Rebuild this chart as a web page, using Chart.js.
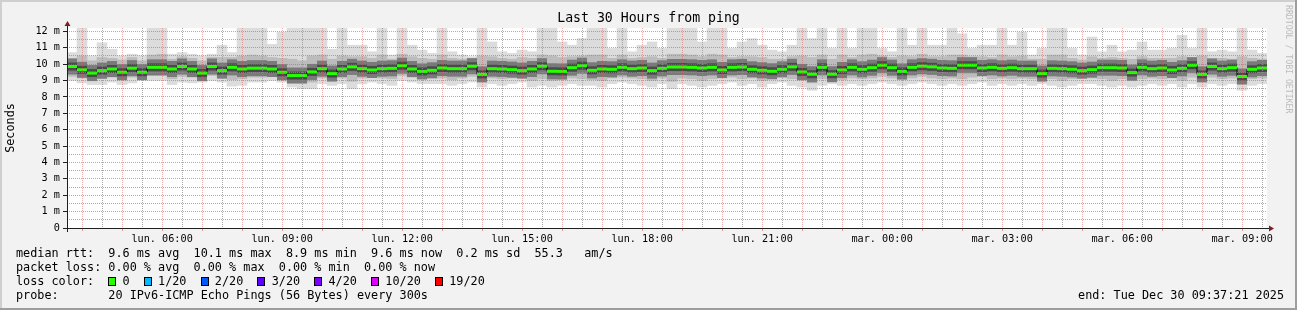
<!DOCTYPE html>
<html>
<head>
<meta charset="utf-8">
<title>Last 30 Hours from ping</title>
<script src="https://cdn.jsdelivr.net/npm/chart.js@4.4.1/dist/chart.umd.min.js"></script>
<style>
  html, body { margin: 0; padding: 0; background: #f2f2f2; }
  #wrap { width: 1297px; height: 310px; }
</style>
</head>
<body>
<div id="wrap"><canvas id="pingChart" width="1297" height="310"></canvas></div>
<script>
// time axis: 30 hours ending Tue Dec 30 09:37:21, one bucket every 15 minutes
const startMinute = 217.35;   // lun. 03:37:21, minutes after midnight
const spanMinutes = 1800;
const sampleMinutes = 15;
const xTickLabels = ['lun. 06:00', 'lun. 09:00', 'lun. 12:00', 'lun. 15:00', 'lun. 18:00',
                     'lun. 21:00', 'mar. 00:00', 'mar. 03:00', 'mar. 06:00', 'mar. 09:00'];
const yTickLabels = ['0', '1 m', '2 m', '3 m', '4 m', '5 m', '6 m', '7 m', '8 m', '9 m', '10 m', '11 m', '12 m'];

// median rtt (ms)
const medianRtt = [
  9.85, 9.65, 9.45, 9.6, 9.7, 9.5, 9.75, 9.5, 9.8, 9.8, 9.7, 9.85, 9.7, 9.45, 9.85, 9.6, 9.8, 9.7, 9.75, 9.75, 9.7, 9.5, 9.3, 9.3,
  9.52, 9.72, 9.42, 9.7, 9.83, 9.72, 9.64, 9.72, 9.74, 9.9, 9.7, 9.55, 9.62, 9.76, 9.72, 9.72, 9.87, 9.37, 9.72, 9.7, 9.66, 9.6, 9.7, 9.87,
  9.56, 9.55, 9.78, 9.9, 9.62, 9.7, 9.68, 9.8, 9.72, 9.76, 9.6, 9.74, 9.82, 9.82, 9.8, 9.76, 9.8, 9.64, 9.8, 9.82, 9.68, 9.62, 9.56, 9.68,
  9.83, 9.52, 9.38, 9.8, 9.38, 9.64, 9.8, 9.68, 9.78, 9.93, 9.78, 9.55, 9.8, 9.87, 9.83, 9.76, 9.74, 9.93, 9.93, 9.76, 9.8, 9.74, 9.78, 9.72,
  9.72, 9.42, 9.74, 9.72, 9.68, 9.6, 9.66, 9.78, 9.78, 9.76, 9.48, 9.8, 9.72, 9.76, 9.64, 9.74, 9.93, 9.37, 9.85, 9.72, 9.78, 9.24, 9.68, 9.76
];
// smoke: slowest ping of each bucket
const pingMax = [
  10.7, 12.3, 10.5, 11.3, 10.9, 10.5, 10.6, 10.5, 12.3, 12.3, 10.6, 10.7, 10.6, 10.5, 10.6, 11.15, 10.7, 12.3, 12.3, 12.3, 11.2, 11.95, 12.3, 12.3,
  12.3, 12.3, 10.9, 12.3, 11.15, 11.15, 10.75, 12.3, 10.55, 12.3, 11.15, 10.85, 10.65, 12.3, 10.75, 10.55, 10.45, 12.3, 11.35, 10.75, 10.65, 10.85, 10.75, 12.3,
  12.3, 11.35, 11.15, 11.55, 12.3, 12.3, 10.95, 12.3, 10.75, 11.15, 11.35, 10.95, 12.3, 12.3, 12.3, 11.35, 12.3, 12.3, 10.95, 11.35, 11.55, 11.15, 10.85, 10.75,
  11.15, 12.3, 11.55, 12.3, 10.95, 12.3, 10.95, 12.3, 12.3, 10.95, 10.75, 12.3, 11.15, 12.3, 11.15, 11.15, 12.3, 11.85, 10.95, 11.15, 11.15, 12.3, 11.15, 11.95,
  10.55, 10.95, 12.3, 12.3, 10.95, 10.55, 11.65, 10.75, 11.15, 10.75, 10.85, 11.35, 10.85, 10.85, 10.95, 11.75, 10.95, 12.3, 10.75, 10.85, 10.75, 12.3, 10.85, 10.65
];
// smoke: upper edge of the dense part
const pingHi = [
  10.35, 10.5, 10.2, 10.4, 10.35, 10.25, 10.4, 10.2, 10.55, 10.6, 10.3, 10.45, 10.35, 10.2, 10.4, 10.4, 10.4, 10.5, 10.55, 10.5, 10.4, 10.35, 10.3, 10.2,
  10.5, 10.55, 10.3, 10.5, 10.45, 10.45, 10.35, 10.55, 10.3, 10.6, 10.45, 10.35, 10.3, 10.55, 10.35, 10.3, 10.35, 10.5, 10.45, 10.35, 10.3, 10.4, 10.35, 10.55,
  10.5, 10.4, 10.45, 10.5, 10.55, 10.55, 10.35, 10.55, 10.35, 10.4, 10.45, 10.35, 10.6, 10.6, 10.55, 10.45, 10.6, 10.55, 10.4, 10.45, 10.45, 10.4, 10.3, 10.3,
  10.45, 10.5, 10.4, 10.55, 10.3, 10.55, 10.4, 10.55, 10.6, 10.5, 10.4, 10.5, 10.45, 10.6, 10.45, 10.45, 10.55, 10.55, 10.45, 10.45, 10.4, 10.55, 10.45, 10.5,
  10.3, 10.3, 10.55, 10.55, 10.35, 10.25, 10.45, 10.35, 10.4, 10.35, 10.3, 10.45, 10.35, 10.35, 10.35, 10.45, 10.4, 10.5, 10.35, 10.35, 10.3, 10.45, 10.35, 10.3
];
// smoke: lower edge of the dense part
const pingLo = [
  9.25, 9.15, 9.1, 9.1, 9.2, 9.1, 9.2, 9.25, 9.3, 9.3, 9.1, 9.25, 9.2, 9.2, 9.3, 9.2, 9.05, 9.1, 9.2, 9.2, 9.25, 9.2, 8.9, 8.85,
  8.9, 9.15, 9.05, 9.15, 8.95, 9.15, 9.2, 9.15, 9.1, 9.3, 9.2, 9.1, 9.15, 9.15, 9.05, 9.15, 9.25, 8.95, 9.15, 9.1, 9.15, 9.2, 9.0, 9.1,
  9.0, 9.05, 9.15, 9.1, 9.05, 9.0, 9.15, 9.2, 9.15, 9.1, 9.0, 9.15, 8.95, 9.15, 9.1, 9.0, 9.1, 9.15, 9.2, 9.1, 9.15, 9.0, 9.1, 9.2,
  9.1, 9.0, 8.85, 9.1, 9.1, 9.05, 9.15, 9.1, 9.15, 9.25, 9.15, 9.05, 9.15, 9.25, 9.15, 9.1, 9.15, 9.1, 9.2, 9.25, 9.1, 9.15, 9.1, 9.15,
  9.1, 9.1, 9.1, 9.0, 9.1, 9.15, 9.15, 9.1, 9.0, 9.1, 9.0, 9.1, 9.15, 9.1, 9.15, 9.0, 9.2, 8.95, 9.2, 9.1, 9.15, 8.8, 9.1, 9.15
];
// smoke: fastest ping of each bucket
const pingMin = [
  9.0, 8.85, 8.75, 8.75, 8.9, 8.75, 8.85, 9.05, 9.0, 9.0, 8.75, 8.9, 8.85, 8.9, 9.0, 8.9, 8.65, 8.7, 8.9, 8.9, 9.0, 8.9, 8.6, 8.5,
  8.5, 8.8, 8.7, 8.8, 8.5, 8.8, 8.9, 8.8, 8.7, 9.0, 8.9, 8.8, 8.8, 8.8, 8.7, 8.8, 8.9, 8.6, 8.8, 8.7, 8.8, 8.9, 8.6, 8.7,
  8.6, 8.7, 8.8, 8.7, 8.7, 8.6, 8.8, 8.9, 8.8, 8.7, 8.6, 8.8, 8.5, 8.8, 8.7, 8.6, 8.7, 8.8, 8.9, 8.7, 8.8, 8.6, 8.8, 8.9,
  8.7, 8.6, 8.4, 8.7, 8.8, 8.7, 8.8, 8.7, 8.8, 8.9, 8.8, 8.7, 8.8, 8.9, 8.8, 8.7, 8.8, 8.7, 8.8, 8.9, 8.7, 8.8, 8.7, 8.8,
  8.7, 8.8, 8.7, 8.6, 8.7, 8.8, 8.8, 8.7, 8.6, 8.7, 8.6, 8.7, 8.8, 8.7, 8.8, 8.6, 8.8, 8.6, 8.8, 8.7, 8.8, 8.4, 8.7, 8.8
];

// texts around the graph
const titleText = 'Last 30 Hours from ping';
const yAxisTitle = 'Seconds';
const medianLegend = 'median rtt:  9.6 ms avg  10.1 ms max  8.9 ms min  9.6 ms now  0.2 ms sd  55.3   am/s';
const lossLegend = 'packet loss: 0.00 % avg  0.00 % max  0.00 % min  0.00 % now';
const lossLabels = ['0', '1/20', '2/20', '3/20', '4/20', '10/20', '19/20'];
const lossColors = ['#26ff00', '#00b8ff', '#0059ff', '#5e00ff', '#7e00ff', '#dd00ff', '#ff0000'];
const probeLegend = 'probe:       20 IPv6-ICMP Echo Pings (56 Bytes) every 300s';
const endText = 'end: Tue Dec 30 09:37:21 2025';
const watermarkText = 'RRDTOOL / TOBI OETIKER';

const mono = '"DejaVu Sans Mono", monospace';
const majorGrid = 'rgba(222, 79, 79, 0.6)';
const majorGridX = 'rgba(222, 79, 79, 0.45)';
const minorGrid = 'rgba(143, 143, 143, 0.75)';
const noColor = 'rgba(0, 0, 0, 0)';
const yTop = 12.2;

// grid every 30 minutes, aligned to the clock
const xClockTicks = [];
for (let c = Math.ceil(startMinute / 30) * 30; c <= startMinute + spanMinutes; c += 30) {
    xClockTicks.push(c);
}
const clockOf = value => Math.round(value + startMinute);
const isHour = c => c.tick !== undefined && clockOf(c.tick.value) % 60 === 0;
const isWhole = c => c.tick !== undefined && Number.isInteger(c.tick.value);

// grid every half unit on the value axis
const yGridTicks = [];
yTickLabels.forEach((_, i) => {
    yGridTicks.push(i);
    if (i < yTickLabels.length - 1) yGridTicks.push(i + 0.5);
});

const rrdFrame = {
    id: 'rrdFrame',
    beforeDraw(chart) {
        const { ctx, chartArea: a, width, height } = chart;
        ctx.save();
        ctx.fillStyle = '#f2f2f2';
        ctx.fillRect(0, 0, width, height);
        ctx.fillStyle = '#cfcfcf';
        ctx.fillRect(0, 0, width, 2);
        ctx.fillRect(0, 0, 2, height);
        ctx.fillStyle = '#9e9e9e';
        ctx.fillRect(0, height - 2, width, 2);
        ctx.fillRect(width - 2, 0, 2, height);
        ctx.fillStyle = '#ffffff';
        ctx.fillRect(a.left, a.top, a.right - a.left, a.bottom - a.top);
        ctx.restore();
    },
    afterDraw(chart) {
        const { ctx, chartArea: a } = chart;
        const x0 = a.left, y0 = a.bottom;
        ctx.save();

        // axes
        ctx.strokeStyle = '#1f1f1f';
        ctx.lineWidth = 1;
        ctx.beginPath();
        ctx.moveTo(x0 - 4, y0 + 0.5);
        ctx.lineTo(a.right + 4, y0 + 0.5);
        ctx.moveTo(x0 + 0.5, y0 + 4);
        ctx.lineTo(x0 + 0.5, a.top - 4);
        ctx.stroke();

        // arrows
        ctx.fillStyle = '#801f1f';
        ctx.beginPath();
        ctx.moveTo(a.right + 2, y0 - 3 + 0.5);
        ctx.lineTo(a.right + 2, y0 + 3 + 0.5);
        ctx.lineTo(a.right + 7, y0 + 0.5);
        ctx.closePath();
        ctx.fill();
        ctx.beginPath();
        ctx.moveTo(x0 - 3 + 0.5, a.top - 2);
        ctx.lineTo(x0 + 3 + 0.5, a.top - 2);
        ctx.lineTo(x0 + 0.5, a.top - 7);
        ctx.closePath();
        ctx.fill();

        // title
        ctx.fillStyle = '#000';
        ctx.textBaseline = 'middle';
        ctx.textAlign = 'center';
        ctx.font = `13.2px ${mono}`;
        ctx.fillText(titleText, chart.width / 2, 19);

        // vertical unit label
        ctx.save();
        ctx.font = `11.8px ${mono}`;
        ctx.translate(10.5, (a.top + a.bottom) / 2);
        ctx.rotate(-Math.PI / 2);
        ctx.fillText(yAxisTitle, 0, 0);
        ctx.restore();

        // watermark
        ctx.save();
        ctx.font = `8.2px ${mono}`;
        ctx.fillStyle = '#bcbcbc';
        ctx.textAlign = 'left';
        ctx.translate(1288, 5);
        ctx.rotate(Math.PI / 2);
        ctx.fillText(watermarkText, 0, 0);
        ctx.restore();

        // legend
        ctx.font = `11.8px ${mono}`;
        ctx.textAlign = 'left';
        const cw = ctx.measureText('0').width;
        const lx = 16;
        ctx.fillText(medianLegend, lx, 254);
        ctx.fillText(lossLegend, lx, 268);
        ctx.fillText('loss color:', lx, 282);
        let col = 13;
        lossLabels.forEach((lab, i) => {
            const bx = Math.round(lx + col * cw) + 0.5;
            ctx.fillStyle = lossColors[i];
            ctx.fillRect(bx, 277.5, 7, 8);
            ctx.strokeStyle = '#000';
            ctx.strokeRect(bx, 277.5, 7, 8);
            ctx.fillStyle = '#000';
            ctx.fillText(lab, lx + (col + 2) * cw, 282);
            col += lab.length + 4;
        });
        ctx.fillText(probeLegend, lx, 296);
        ctx.textAlign = 'right';
        ctx.fillText(endText, 1284, 296);

        ctx.restore();
    }
};

const ctx = document.getElementById('pingChart').getContext('2d');
const bucketLabels = medianRtt.map((_, i) => i * sampleMinutes);

new Chart(ctx, {
    type: 'bar',
    data: {
        labels: bucketLabels,
        datasets: [
            {
                type: 'line', label: 'median rtt', data: medianRtt, showLine: false,
                pointStyle: 'line', pointRadius: 5, pointBorderWidth: 3,
                pointBorderColor: '#26ff00', order: 0
            },
            {
                type: 'line', label: 'median step', data: medianRtt, stepped: 'middle',
                borderColor: '#000000', borderWidth: 1, pointRadius: 0, order: 1
            },
            {
                type: 'line', label: 'smoke core', data: medianRtt, showLine: false,
                pointStyle: 'line', pointRadius: 5, pointBorderWidth: 8,
                pointBorderColor: '#4a4a4a', order: 2
            },
            {
                type: 'line', label: 'smoke core wide', data: medianRtt, showLine: false,
                pointStyle: 'line', pointRadius: 5, pointBorderWidth: 16,
                pointBorderColor: '#7a7a7a', order: 3
            },
            {
                label: 'smoke inner', data: pingLo.map((v, i) => [v, pingHi[i]]),
                backgroundColor: '#bcbcbc', grouped: false,
                barPercentage: 1, categoryPercentage: 1, order: 4
            },
            {
                label: 'smoke outer', data: pingMin.map((v, i) => [v, pingMax[i]]),
                backgroundColor: '#dcdcdc', grouped: false,
                barPercentage: 1, categoryPercentage: 1, order: 5
            }
        ]
    },
    options: {
        responsive: false,
        animation: false,
        events: [],
        layout: { padding: { left: 0, top: 28, right: 30, bottom: 62 } },
        plugins: {
            legend: { display: false },
            tooltip: { enabled: false }
        },
        scales: {
            x: { type: 'category', display: false },
            xTime: {
                type: 'linear',
                position: 'bottom',
                offset: false,
                min: 0,
                max: spanMinutes,
                afterBuildTicks: s => { s.ticks = xClockTicks.map(c => ({ value: c - startMinute })); },
                afterFit: s => { s.height = 20; s.paddingLeft = 0; s.paddingRight = 0; },
                grid: {
                    offset: false,
                    z: 1,
                    lineWidth: 1,
                    color: c => (isHour(c) ? majorGridX : minorGrid),
                    tickColor: c => (isHour(c) ? majorGrid : noColor),
                    tickLength: 3
                },
                border: { display: false, dash: [1, 1] },
                ticks: {
                    autoSkip: false,
                    maxRotation: 0,
                    minRotation: 0,
                    padding: 2,
                    color: '#000',
                    font: { family: mono, size: 10.2 },
                    callback: value => {
                        const c = clockOf(value);
                        return c % 180 === 0 ? xTickLabels[(c - 360) / 180] : '';
                    }
                }
            },
            y: {
                min: 0,
                max: yTop,
                afterBuildTicks: s => { s.ticks = yGridTicks.map(v => ({ value: v })); },
                afterFit: s => { s.width = 67; s.paddingTop = 0; s.paddingBottom = 0; },
                grid: {
                    z: 1,
                    lineWidth: 1,
                    color: c => (isWhole(c) ? majorGrid : minorGrid),
                    tickColor: c => (isWhole(c) ? '#1f1f1f' : noColor),
                    tickLength: 4
                },
                border: { display: false, dash: [1, 1] },
                ticks: {
                    autoSkip: false,
                    padding: 3,
                    color: '#000',
                    font: { family: mono, size: 10.2 },
                    callback: value => (Number.isInteger(value) ? yTickLabels[value] : '')
                }
            }
        }
    },
    plugins: [rrdFrame]
});
</script>
</body>
</html>
